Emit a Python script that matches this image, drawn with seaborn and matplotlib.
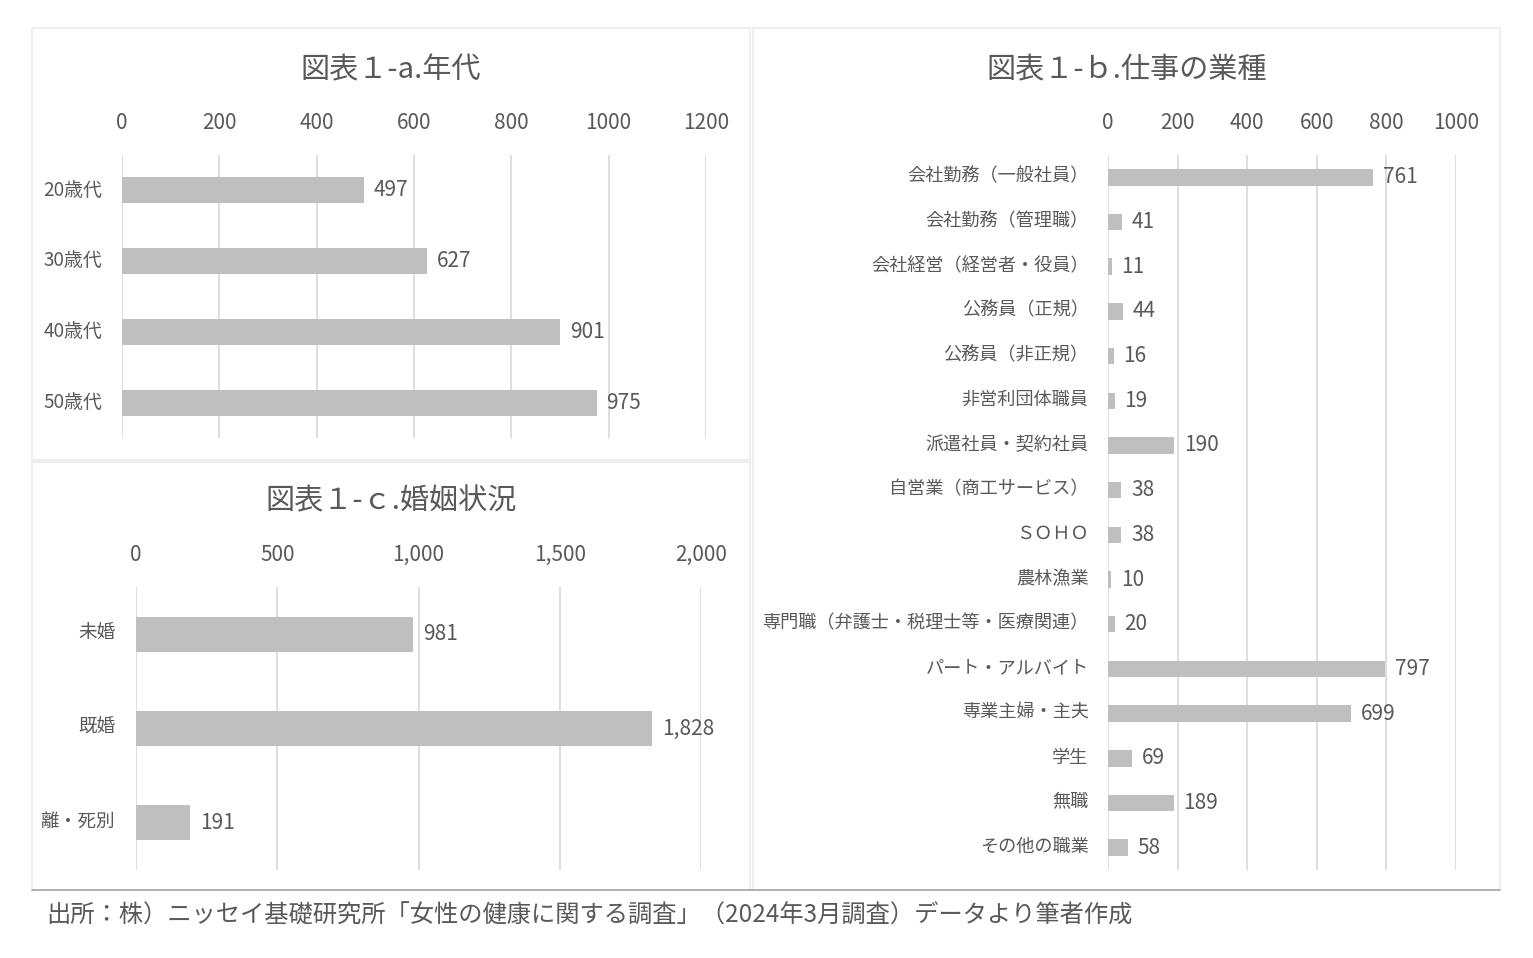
import matplotlib
matplotlib.use("Agg")
import matplotlib.pyplot as plt
from matplotlib.patches import Rectangle
from matplotlib.lines import Line2D
from matplotlib.ticker import FuncFormatter
import matplotlib.transforms as mtransforms
import seaborn as sns

# data
age_groups = ['20歳代', '30歳代', '40歳代', '50歳代']
age_counts = [497, 627, 901, 975]

job_types = ['会社勤務（一般社員）', '会社勤務（管理職）', '会社経営（経営者・役員）',
             '公務員（正規）', '公務員（非正規）', '非営利団体職員', '派遣社員・契約社員',
             '自営業（商工サービス）', 'ＳＯＨＯ', '農林漁業',
             '専門職（弁護士・税理士等・医療関連）', 'パート・アルバイト',
             '専業主婦・主夫', '学生', '無職', 'その他の職業']
job_counts = [761, 41, 11, 44, 16, 19, 190, 38, 38, 10, 20, 797, 699, 69, 189, 58]

marital = ['未婚', '既婚', '離・死別']
marital_counts = [981, 1828, 191]

titles = ['図表１-a.年代', '図表１-ｂ.仕事の業種', '図表１-ｃ.婚姻状況']
source = '出所：株）ニッセイ基礎研究所「女性の健康に関する調査」（2024年3月調査）データより筆者作成'

sns.set_theme(style='white')
plt.rcParams['font.family'] = ['Noto Sans CJK JP', 'DejaVu Sans']

TXT = '#595959'
BAR = '#bfbfbf'
GRID = '#d9d9d9'

fig = plt.figure(figsize=(15.33, 9.58), dpi=100)
W, H = 1533, 958


def fx(px):
    return px / W


def fy(py):
    return 1 - py / H


# panel boxes
for x0, y0, x1, y1 in [(32, 28, 750, 460), (32, 462, 750, 890), (753, 28, 1500, 890)]:
    fig.add_artist(Rectangle((fx(x0), fy(y1)), fx(x1) - fx(x0), fy(y0) - fy(y1),
                             transform=fig.transFigure, fill=False,
                             edgecolor='#ebebeb', lw=1.2))
fig.add_artist(Line2D([fx(32), fx(1500)], [fy(890), fy(890)],
                      transform=fig.transFigure, color='#a6a6a6', lw=1.2))


def make_axes(left, right, top, bottom):
    return fig.add_axes([fx(left), fy(bottom), fx(right) - fx(left), fy(top) - fy(bottom)])


def style(ax, values, cats, xmax, step, label_pad, label_size, comma=False):
    sns.barplot(x=values, y=cats, ax=ax, color=BAR, width=0.37, orient='h',
                saturation=1, edgecolor='none')
    ax.set_xlim(0, xmax)
    ax.set_xticks(range(0, xmax + 1, step))
    ax.xaxis.tick_top()
    ax.tick_params(axis='x', length=0, pad=15, labelsize=15, labelcolor=TXT)
    ax.tick_params(axis='y', length=0, pad=label_pad, labelsize=label_size, labelcolor=TXT)
    # category labels sit a touch above the bar centre
    shift = mtransforms.ScaledTranslation(0, 2 / 72, fig.dpi_scale_trans)
    for t in ax.get_yticklabels():
        t.set_transform(t.get_transform() + shift)
    ax.xaxis.grid(True, color=GRID, lw=1.2)
    ax.yaxis.grid(False)
    ax.set_axisbelow(True)
    for s in ax.spines.values():
        s.set_visible(False)
    ax.set_xlabel('')
    ax.set_ylabel('')
    ax.patch.set_alpha(0)
    if comma:
        ax.xaxis.set_major_formatter(FuncFormatter(lambda v, p: f'{int(v):,}'))
        fmt = '{:,.0f}'
    else:
        fmt = '{:.0f}'
    ax.bar_label(ax.containers[0], fmt=fmt, padding=7, fontsize=15, color=TXT)


ax_a = make_axes(122, 706, 155, 438)
style(ax_a, age_counts, age_groups, 1200, 200, 14, 13.6)

ax_c = make_axes(136, 701, 587, 870)
style(ax_c, marital_counts, marital, 2000, 500, 15, 13.4, comma=True)

ax_b = make_axes(1108, 1456, 155, 870)
style(ax_b, job_counts, job_types, 1000, 200, 14, 13.1)

fig.text(fx(391), fy(70), titles[0], ha='center', va='center', fontsize=21, color=TXT)
fig.text(fx(1127), fy(70), titles[1], ha='center', va='center', fontsize=21, color=TXT)
fig.text(fx(391), fy(501), titles[2], ha='center', va='center', fontsize=21, color=TXT)
fig.text(fx(46), fy(916), source, ha='left', va='center', fontsize=17.5, color=TXT)

fig.savefig('out.png', dpi=100, facecolor='white')
